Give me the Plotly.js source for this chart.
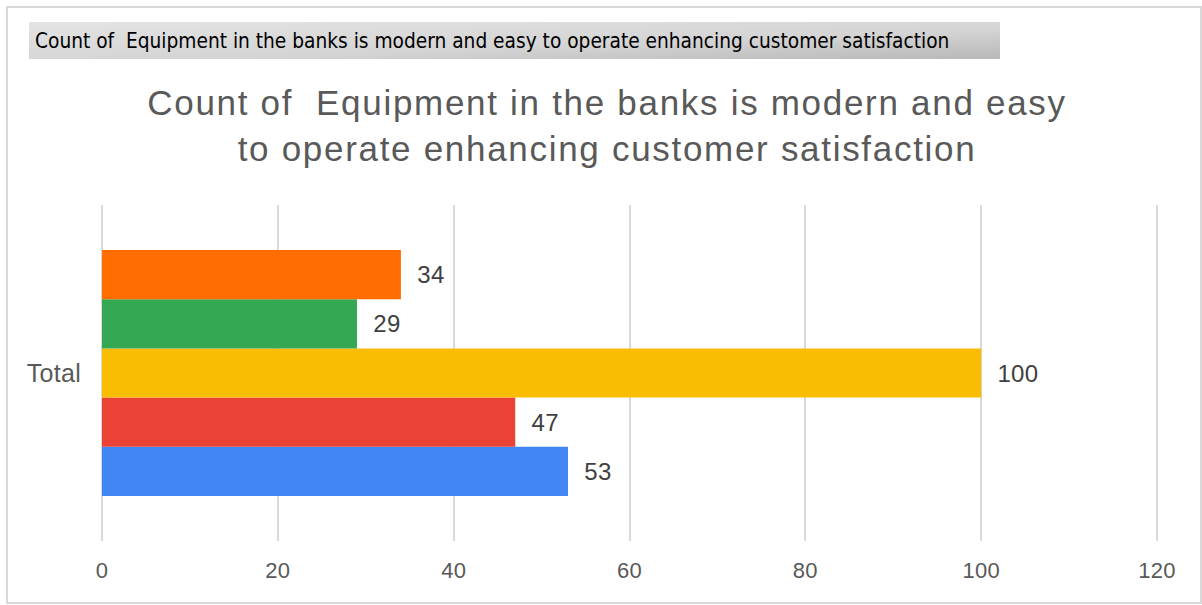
<!DOCTYPE html>
<html>
<head>
<meta charset="utf-8">
<script src="https://cdn.plot.ly/plotly-3.0.1.min.js"></script>
<style>
html,body{margin:0;padding:0;background:#fff;}
#chart{width:1202px;height:605px;}
#chart .gtitle{letter-spacing:1.7px;}
#chart .ytick text, #chart .xtick text, #chart .bartext{letter-spacing:0.3px;}
</style>
</head>
<body>
<div id="chart"></div>
<script>
const categories = ["Total"];
const seriesNames = ["Strongly Agree", "Agree", "Neutral", "Disagree", "Strongly Disagree"];
const seriesValues = [[53], [47], [100], [29], [34]];
const seriesColors = ["#4285F4", "#EA4335", "#FBBC04", "#34A853", "#FF6D01"];
const xTicks = [0, 20, 40, 60, 80, 100, 120];
const titleText = "Count of  Equipment in the banks is modern and easy<br>to operate enhancing customer satisfaction";
const headerText = "Count of  Equipment in the banks is modern and easy to operate enhancing customer satisfaction";

const traces = seriesValues.map((vals, i) => ({
  type: "bar",
  orientation: "h",
  name: seriesNames[i],
  y: categories,
  x: vals,
  marker: {color: seriesColors[i]},
  text: vals.map(v => "\u00a0\u00a0" + v),
  textposition: "outside",
  cliponaxis: false,
  textfont: {family: "Liberation Sans, Arial, sans-serif", size: 24, color: "#404040"},
  hoverinfo: "x+name"
}));

const gradSvg = '<svg xmlns="http://www.w3.org/2000/svg" width="971" height="37" preserveAspectRatio="none">' +
  '<defs><linearGradient id="g" x1="0" y1="0" x2="1" y2="1">' +
  '<stop offset="0" stop-color="#e4e4e4"/><stop offset="0.6" stop-color="#d4d4d4"/><stop offset="1" stop-color="#b8b8b8"/>' +
  '</linearGradient></defs><rect width="971" height="37" fill="url(#g)"/></svg>';
const gradUri = "data:image/svg+xml;base64," + btoa(gradSvg);

const L = 102, R = 1161, T = 205, B = 541;
const px = p => (p - L) / (R - L);
const py = p => (B - p) / (B - T);

const layout = {
  width: 1202, height: 605,
  margin: {l: L, r: 1202 - R, t: T, b: 605 - B},
  paper_bgcolor: "#ffffff",
  plot_bgcolor: "#ffffff",
  showlegend: false,
  barmode: "group",
  bargap: 0.268,
  bargroupgap: 0,
  title: {
    text: titleText,
    x: 607 / 1202, xanchor: "center",
    y: 1 - 115 / 605, yanchor: "top", yref: "container",
    font: {family: "Liberation Sans, Arial, sans-serif", size: 35, color: "#595959"}
  },
  xaxis: {
    range: [0, 120.45],
    tickvals: xTicks,
    ticktext: xTicks.map(String),
    showgrid: true,
    gridcolor: "#d9d9d9",
    gridwidth: 2,
    zeroline: true,
    zerolinecolor: "#d9d9d9",
    zerolinewidth: 2,
    showline: false,
    ticks: "",
    ticklen: 0,
    ticklabelstandoff: 14,
    tickfont: {family: "Liberation Sans, Arial, sans-serif", size: 22, color: "#595959"},
    fixedrange: true
  },
  yaxis: {
    type: "category",
    showgrid: false,
    zeroline: false,
    showline: false,
    ticks: "",
    ticklabelstandoff: 20,
    tickfont: {family: "Liberation Sans, Arial, sans-serif", size: 25, color: "#595959"},
    fixedrange: true
  },
  images: [{
    source: gradUri,
    xref: "paper", yref: "paper",
    x: px(29), y: py(22),
    sizex: px(1000) - px(29), sizey: py(22) - py(59),
    xanchor: "left", yanchor: "top",
    sizing: "stretch", layer: "below"
  }],
  shapes: [{
    type: "rect", xref: "paper", yref: "paper",
    x0: px(7), x1: px(1201), y0: py(603), y1: py(7),
    line: {color: "#d9d9d9", width: 2},
    fillcolor: "rgba(0,0,0,0)", layer: "below"
  }],
  annotations: [{
    text: headerText,
    xref: "paper", yref: "paper",
    x: px(33), y: py(41),
    xanchor: "left", yanchor: "middle",
    showarrow: false,
    font: {family: "DejaVu Sans Condensed, Liberation Sans Narrow, sans-serif", size: 20.7, color: "#000000"}
  }]
};

Plotly.newPlot("chart", traces, layout, {displayModeBar: false, staticPlot: true});
</script>
</body>
</html>
